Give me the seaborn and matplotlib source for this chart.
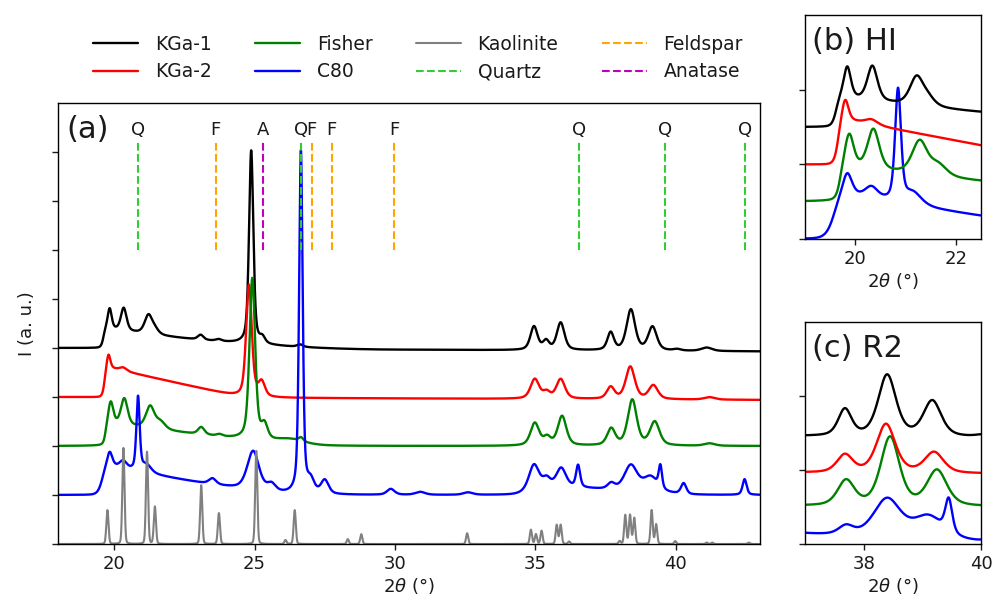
import numpy as np
import pandas as pd
import matplotlib
matplotlib.use("Agg")
import matplotlib.pyplot as plt
import seaborn as sns

# ---------------------------------------------------------------------------
# Peak tables (position in 2-theta, height in a.u., FWHM in degrees)
# ---------------------------------------------------------------------------
KGA1_POS = [19.84, 20.34, 21.22, 21.45, 23.08, 23.72, 24.88, 25.28, 26.62,
            34.95, 35.38, 35.90, 37.68, 38.40, 39.17, 40.05, 41.10]
KGA1_HGT = [0.42, 0.47, 0.38, 0.10, 0.10, 0.04, 3.95, 0.12, 0.05,
            0.48, 0.18, 0.56, 0.36, 0.83, 0.48, 0.03, 0.07]
KGA1_FWHM = [0.17, 0.24, 0.32, 0.32, 0.24, 0.25, 0.18, 0.22, 0.25,
             0.30, 0.26, 0.32, 0.27, 0.36, 0.36, 0.30, 0.45]

KGA2_POS = [19.80, 20.32, 24.80, 25.25, 34.98, 35.40, 35.90, 37.68, 38.38,
            39.20, 41.20]
KGA2_HGT = [0.28, 0.07, 2.30, 0.30, 0.40, 0.13, 0.40, 0.24, 0.66, 0.28, 0.05]
KGA2_FWHM = [0.15, 0.30, 0.24, 0.28, 0.36, 0.30, 0.36, 0.32, 0.38, 0.38, 0.45]

FISHER_POS = [19.88, 20.36, 21.28, 21.65, 23.10, 23.75, 24.92, 25.35, 26.30,
              26.65, 34.98, 35.42, 35.95, 37.70, 38.45, 39.25, 41.20]
FISHER_HGT = [0.45, 0.55, 0.45, 0.15, 0.15, 0.04, 3.30, 0.30, 0.12,
              0.08, 0.46, 0.16, 0.60, 0.34, 0.93, 0.48, 0.05]
FISHER_FWHM = [0.21, 0.28, 0.36, 0.40, 0.27, 0.25, 0.24, 0.27, 1.20,
               0.20, 0.36, 0.30, 0.36, 0.34, 0.38, 0.40, 0.45]

C80_POS = [19.84, 20.32, 20.85, 21.15, 23.50, 24.95, 25.60, 26.65, 27.00,
           27.50, 29.85, 30.90, 32.60, 34.95, 35.40, 35.92, 36.52, 37.70,
           38.40, 39.10, 39.45, 40.28, 42.45]
C80_HGT = [0.30, 0.15, 1.50, 0.16, 0.12, 0.80, 0.15, 7.00, 0.25,
           0.28, 0.12, 0.06, 0.05, 0.45, 0.15, 0.38, 0.45, 0.12,
           0.52, 0.30, 0.45, 0.22, 0.32]
C80_FWHM = [0.22, 0.30, 0.14, 0.40, 0.30, 0.50, 0.35, 0.15, 0.30,
            0.32, 0.32, 0.40, 0.40, 0.40, 0.30, 0.40, 0.17, 0.30,
            0.55, 0.60, 0.14, 0.22, 0.17]

KAOL_POS = [19.76, 20.33, 21.17, 21.45, 23.10, 23.73, 25.06, 26.10, 26.43,
            28.32, 28.80, 32.57, 34.84, 35.02, 35.22, 35.76, 35.90, 36.20,
            38.00, 38.20, 38.37, 38.52, 39.14, 39.30, 39.98, 41.10, 41.30,
            42.60]
KAOL_HGT = [0.69, 1.96, 1.88, 0.76, 1.20, 0.63, 1.90, 0.08, 0.69,
            0.10, 0.20, 0.22, 0.29, 0.20, 0.27, 0.39, 0.39, 0.05,
            0.06, 0.59, 0.59, 0.53, 0.69, 0.40, 0.06, 0.03, 0.03,
            0.03]
KAOL_FWHM = 0.09

# Broad two-dimensional diffraction bands: onset, height, end, decay exponent, onset width
KGA1_BANDS = [(19.62, 0.40, 30.0, 2.0, 0.04)]
KGA2_BANDS = [(19.66, 0.62, 24.6, 1.0, 0.04)]
FISHER_BANDS = [(19.70, 0.45, 26.5, 1.0, 0.04)]
C80_BANDS = [(19.58, 0.62, 26.5, 1.3, 0.08), (34.70, 0.20, 40.5, 1.0, 0.15)]

# Baseline drift across the scan (a.u. at 43 deg relative to 18 deg)
KGA1_DRIFT = -0.07
KGA2_DRIFT = -0.06

COLORS = {"KGa-1": "black", "KGa-2": "red", "Fisher": "green", "C80": "blue",
          "Kaolinite": "gray"}
OFFSET_A = {"KGa-1": 4.0, "KGa-2": 3.0, "Fisher": 2.0, "C80": 1.0, "Kaolinite": 0.0}
OFFSET_ZOOM = {"KGa-1": 1.5, "KGa-2": 1.0, "Fisher": 0.5, "C80": 0.0}

# Reference phase lines
QUARTZ_POS = [20.85, 26.65, 36.55, 39.60, 42.45]
FELDSPAR_POS = [23.62, 27.03, 27.75, 29.98]
ANATASE_POS = [25.29]
REF_LOW, REF_HIGH, REF_LABEL_Y = 6.0, 8.2, 8.45

two_theta = np.linspace(18.0, 43.0, 6001)


def pseudo_voigt(x, center, height, fwhm, eta=0.5):
    z = (x - center) / fwhm
    return height * (eta / (1 + 4 * z ** 2) + (1 - eta) * np.exp(-4 * np.log(2) * z ** 2))


def band(x, x0, h, x1, p, s):
    t = np.clip((x - x0) / (x1 - x0), 0, 1)
    return h * (1 - t) ** p / (1 + np.exp(-(x - x0) / s))


def pattern(pos, hgt, fwhm, bands=(), drift=0.0, eta=0.5):
    y = np.zeros_like(two_theta)
    fw = np.broadcast_to(fwhm, (len(pos),))
    for c, h, w in zip(pos, hgt, fw):
        y += pseudo_voigt(two_theta, c, h, w, eta)
    for b in bands:
        y += band(two_theta, *b)
    y += drift * (two_theta - 18.0) / 25.0
    return y


profiles = {
    "KGa-1": pattern(KGA1_POS, KGA1_HGT, KGA1_FWHM, KGA1_BANDS, KGA1_DRIFT),
    "KGa-2": pattern(KGA2_POS, KGA2_HGT, KGA2_FWHM, KGA2_BANDS, KGA2_DRIFT),
    "Fisher": pattern(FISHER_POS, FISHER_HGT, FISHER_FWHM, FISHER_BANDS),
    "C80": pattern(C80_POS, C80_HGT, C80_FWHM, C80_BANDS),
    "Kaolinite": pattern(KAOL_POS, KAOL_HGT, KAOL_FWHM, eta=0.15),
}

df = pd.concat(
    [pd.DataFrame({"two_theta": two_theta, "intensity": y, "sample": name})
     for name, y in profiles.items()],
    ignore_index=True,
)

sns.set_style("ticks")
plt.rcParams["font.family"] = ["DejaVu Sans"]
plt.rcParams.update({
    "xtick.labelsize": 13, "axes.labelsize": 13, "axes.linewidth": 1.0,
    "text.color": "#1a1a1a", "axes.labelcolor": "#1a1a1a",
    "xtick.color": "#1a1a1a", "ytick.color": "#1a1a1a",
})

fig = plt.figure(figsize=(9.93, 6.05), dpi=100)
ax_a = fig.add_axes([0.0584, 0.1008, 0.707, 0.729])
ax_b = fig.add_axes([0.8107, 0.605, 0.1772, 0.370])
ax_c = fig.add_axes([0.8107, 0.1008, 0.1772, 0.367])

LW = 1.7
handles = {}
for name in ["KGa-1", "KGa-2", "Fisher", "C80", "Kaolinite"]:
    sub = df[df["sample"] == name].assign(
        shifted=lambda d: d["intensity"] + OFFSET_A[name])
    sns.lineplot(data=sub, x="two_theta", y="shifted", color=COLORS[name],
                 lw=LW if name != "Kaolinite" else 1.5, ax=ax_a, label=name,
                 sort=False, errorbar=None)
    handles[name] = ax_a.get_lines()[-1]

ref_sets = [("Quartz", QUARTZ_POS, "limegreen", "Q"),
            ("Feldspar", FELDSPAR_POS, "orange", "F"),
            ("Anatase", ANATASE_POS, "m", "A")]
for name, positions, color, letter in ref_sets:
    handles[name] = ax_a.vlines(positions, REF_LOW, REF_HIGH, colors=color,
                                linestyles="dashed", lw=1.5, label=name)
    for p in positions:
        ax_a.text(p, REF_LABEL_Y, letter, ha="center", va="center", fontsize=13)

ax_a.get_legend().remove()
ax_a.set_xlim(18, 43)
ax_a.set_ylim(0, 9)
ax_a.set_xticks([20, 25, 30, 35, 40])
ax_a.set_yticks(np.arange(0, 9))
ax_a.set_yticklabels([])
ax_a.set_xlabel(r"2$\theta$ (°)", labelpad=2)
ax_a.set_ylabel("I (a. u.)", labelpad=8)
ax_a.text(0.012, 0.939, "(a)", transform=ax_a.transAxes, fontsize=22,
          ha="left", va="center")

# Zoomed panels: HI band region and R2 region
zoom_panels = [(ax_b, (19.0, 22.5), [20, 22], "(b) HI"),
               (ax_c, (37.0, 40.0), [38, 40], "(c) R2")]
for ax, (lo, hi), ticks, title in zoom_panels:
    for name in ["C80", "Fisher", "KGa-2", "KGa-1"]:
        sub = df[(df["sample"] == name) & (df["two_theta"] >= lo - 0.1)
                 & (df["two_theta"] <= hi + 0.1)].assign(
            shifted=lambda d: d["intensity"] + OFFSET_ZOOM[name])
        sns.lineplot(data=sub, x="two_theta", y="shifted", color=COLORS[name],
                     lw=LW, ax=ax, sort=False, errorbar=None)
    ax.set_xlim(lo, hi)
    ax.set_ylim(0, 3)
    ax.set_xticks(ticks)
    ax.set_yticks([0, 1, 2])
    ax.set_yticklabels([])
    ax.set_xlabel(r"2$\theta$ (°)", labelpad=2)
    ax.set_ylabel("")
    ax.text(0.04, 0.88, title, transform=ax.transAxes, fontsize=22,
            ha="left", va="center")

for ax in (ax_a, ax_b, ax_c):
    ax.tick_params(direction="out", length=4, width=1.0, pad=4)
    for s in ax.spines.values():
        s.set_visible(True)
        s.set_color("black")

order = ["KGa-1", "KGa-2", "Fisher", "C80", "Kaolinite", "Quartz", "Feldspar", "Anatase"]
fig.legend([handles[k] for k in order], order, ncol=4, loc="upper center",
           bbox_to_anchor=(0.421, 0.97), frameon=False, fontsize=13.5,
           handlelength=2.4, handletextpad=0.9, columnspacing=2.3,
           labelspacing=0.45)

fig.savefig("out.png", dpi=100)
